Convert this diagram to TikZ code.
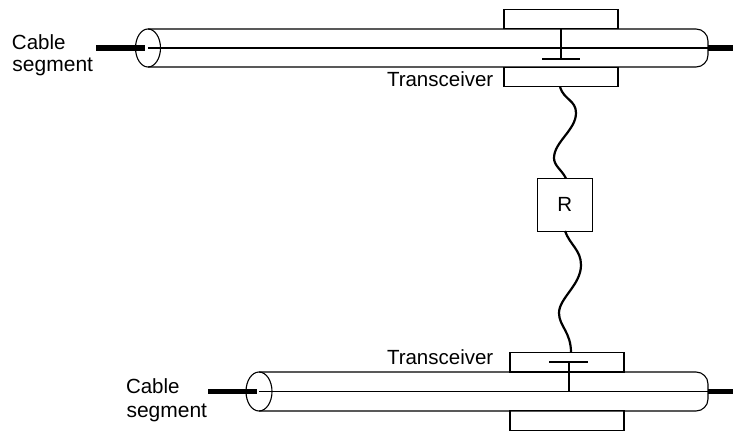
\documentclass[tikz,border=0pt]{standalone}
\usepackage{fontspec}
\usetikzlibrary{shapes.geometric}
\setmainfont{Liberation Sans}
\tikzset{
  thin line/.style={draw=black,line width=1.1pt},
  thick stub/.style={draw=black,line width=5.6pt},
  wave/.style={draw=black,line width=2.2pt},
  tap/.style={draw=black,line width=2pt},
  xcvr/.style={draw=black,line width=1.1pt,fill=white,minimum width=114pt,minimum height=19.5pt,inner sep=0pt,outer sep=0pt},
  txt/.style={font=\fontsize{20.5pt}{24pt}\selectfont,inner sep=0pt,outer sep=0pt,text=black},
  wide txt/.style={font=\fontsize{21pt}{24pt}\selectfont,inner sep=0pt,outer sep=0pt,text=black},
  repeater/.style={draw=black,line width=1.1pt,fill=white,minimum width=55.5pt,minimum height=52.5pt,inner sep=0pt,outer sep=0pt},
  capend/.style={draw=black,line width=1.1pt,ellipse,inner sep=0pt}
}
\begin{document}
\begin{tikzpicture}[x=1pt,y=-1pt]
\useasboundingbox (0,0) rectangle (733,433);
% transceiver boxes
\node[xcvr] (tu) at (561,19.2) {};
\node[xcvr] (tl) at (561,77) {};
\node[xcvr] (bu) at (567,362.2) {};
\node[xcvr] (bl) at (567,420.5) {};
% top cable
\draw[thin line,rounded corners=12pt] (148,29) -- (708,29) -- (708,67) -- (148,67);
\coordinate (tcl) at (148,48);
\coordinate (tcr) at (708,48);
\draw[thin line] (tcl) -- (tcr);
\node[capend,minimum width=25pt,minimum height=38pt] (te) at (148,48) {};
\coordinate (tsl) at (96,48);
\coordinate (tse) at (144.5,48);
\coordinate (tsr) at (733,48);
\draw[thick stub] (tsl) -- (tse);
\draw[thick stub] (tcr) -- (tsr);
% bottom cable
\draw[thin line,rounded corners=12pt] (259,372) -- (708,372) -- (708,411) -- (259,411);
\coordinate (bcl) at (259,391.5);
\coordinate (bcr) at (708,391.5);
\draw[thin line] (bcl) -- (bcr);
\node[capend,minimum width=26pt,minimum height=39pt] (be) at (259,391.5) {};
\coordinate (bsl) at (208,391.5);
\coordinate (bse) at (257,391.5);
\coordinate (bsr) at (733,391.5);
\draw[thick stub] (bsl) -- (bse);
\draw[thick stub] (bcr) -- (bsr);
% taps
\coordinate (tt) at (561,59);
\coordinate (tta) at (542,59);
\coordinate (ttb) at (580,59);
\draw[tap] (tu.south) -- (tt);
\draw[tap] (tta) -- (ttb);
\coordinate (bt) at (569,361.5);
\coordinate (bta) at (549,361.5);
\coordinate (btc) at (588,361.5);
\coordinate (btb) at (569,391.5);
\draw[tap] (bt) -- (btb);
\draw[tap] (bta) -- (btc);
% repeater
\node[repeater,txt] (r) at (564.8,204.8) {R};
% wavy connectors
\coordinate (w1) at (560,87);
\coordinate (w2) at (566,178.5);
\coordinate (w3) at (565,231);
\coordinate (w4) at (571,352.5);
\draw[wave] (w1) .. controls (564,100) and (576,100) .. (576,113)
  .. controls (576,130) and (554,142) .. (554,158)
  .. controls (554,166) and (562,170) .. (w2);
\draw[wave] (w3) .. controls (570,245) and (581,250) .. (581,265)
  .. controls (581,285) and (559,298) .. (559,313)
  .. controls (559,326) and (571,332) .. (w4);
% labels
\node[txt,anchor=base west] (c1) at (12,50) {Cable};
\node[wide txt,anchor=base west] (s1) at (12.5,72) {segment};
\node[txt,anchor=base west] (c2) at (126,393) {Cable};
\node[wide txt,anchor=base west] (s2) at (126.5,417) {segment};
\node[txt,anchor=base west] (x1) at (387,87) {Transceiver};
\node[txt,anchor=base west] (x2) at (387,364) {Transceiver};
\end{tikzpicture}
\end{document}
